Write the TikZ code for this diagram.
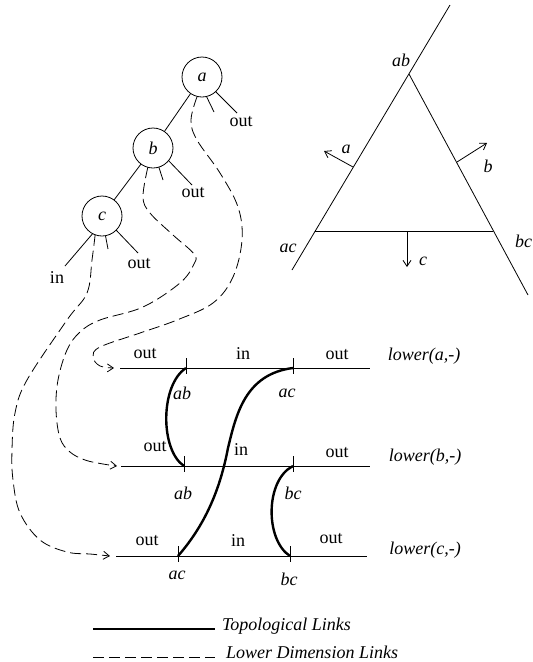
\documentclass[tikz,border=0pt]{standalone}
\usepackage{fontspec}
\setmainfont{Liberation Serif}
\usetikzlibrary{arrows.meta}
\begin{document}
\begin{tikzpicture}[x=1pt,y=-1pt,
  ln/.style={line width=0.8pt},
  topo/.style={line width=2.4pt},
  dashlink/.style={line width=0.8pt, dash pattern=on 11pt off 5pt},
  barb/.style={-{Straight Barb[length=6pt,width=8pt,line width=0.8pt]}},
  lbl/.style={inner sep=0pt, outer sep=0pt, font=\fontsize{18}{21}\selectfont},
  ilbl/.style={lbl, font=\fontsize{18}{21}\selectfont\itshape},
  vtx/.style={circle, draw, line width=0.8pt, minimum size=40pt, inner sep=0pt, outer sep=0pt, font=\fontsize{18}{21}\selectfont\itshape},
  tickmark/.style={line width=0.8pt}
]
\useasboundingbox (0,0) rectangle (533,662);

% ---------- tree ----------
\node[vtx] (na) at (202,77) {a};
\node[vtx] (nb) at (153,148) {b};
\node[vtx] (nc) at (102,216) {c};
\draw[ln] (na) -- (nb);
\draw[ln] (nb) -- (nc);

\coordinate (sa) at (214,112);
\coordinate (oaend) at (237,113);
\node[lbl] (oa) at (241,122) {out};
\draw[ln] (na.-77) -- (sa);
\draw[ln] (na.-47) -- (oaend);

\coordinate (sb) at (163,180);
\coordinate (obend) at (192,185);
\node[lbl] (ob) at (193,193) {out};
\draw[ln] (nb.-73) -- (sb);
\draw[ln] (nb.-39) -- (obend);

\coordinate (sc) at (108,249);
\coordinate (ocend) at (138,253);
\coordinate (icend) at (65,266);
\node[lbl] (oc) at (139,264) {out};
\node[lbl] (ic) at (57,278) {in};
\draw[ln] (nc.-80) -- (sc);
\draw[ln] (nc.-45) -- (ocend);
\draw[ln] (nc.-118) -- (icend);

% ---------- rows ----------
\coordinate (a0) at (120,368); \coordinate (a1) at (370,368);
\coordinate (aab) at (186,368); \coordinate (aac) at (293,368);
\coordinate (b0) at (121,466); \coordinate (b1) at (370,466);
\coordinate (bab) at (184,466); \coordinate (bbc) at (293,466);
\coordinate (c0) at (116,556); \coordinate (c1) at (367,556);
\coordinate (cac) at (178,556); \coordinate (cbc) at (290,556);

\draw[ln] (a0) -- (a1);
\draw[ln] (b0) -- (b1);
\draw[ln] (c0) -- (c1);
\foreach \p in {aab,aac,bab,bbc,cac,cbc}
  \draw[tickmark] ([yshift=10pt]\p) -- ([yshift=-6pt]\p);

\node[lbl] (ra1) at (145,354) {out};
\node[lbl] (ra2) at (243,354) {in};
\node[lbl] (ra3) at (337,355) {out};
\node[ilbl] (ra4) at (424,356) {lower(a,-)};
\node[ilbl] (ra5) at (182,393) {ab};
\node[ilbl] (ra6) at (287,393) {ac};

\node[lbl] (rb1) at (155,447) {out};
\node[lbl] (rb2) at (241,450) {in};
\node[lbl] (rb3) at (337,453) {out};
\node[ilbl] (rb4) at (425,457) {lower(b,-)};
\node[ilbl] (rb5) at (183,493) {ab};
\node[ilbl] (rb6) at (293,493) {bc};

\node[lbl] (rc1) at (147,541) {out};
\node[lbl] (rc2) at (238,541) {in};
\node[lbl] (rc3) at (331,539) {out};
\node[ilbl] (rc4) at (425,550) {lower(c,-)};
\node[ilbl] (rc5) at (177,575) {ac};
\node[ilbl] (rc6) at (289,579) {bc};

% topological links
\draw[topo] (aab) .. controls (160,385) and (160,450) .. (bab);
\draw[topo] (bbc) .. controls (265,480) and (265,540) .. (cbc);
\draw[topo] (aac) .. controls (245,374) and (236,415) .. (228,448)
                  .. controls (220,490) and (205,525) .. (cac);

% lower dimension links
\draw[dashlink,barb] plot[smooth, tension=0.6] coordinates {(na.-104) (191,120) (197,140) (220,173) (238,207) (242,240) (233,277) (213,303) (177,320) (140,333) (100,347) (93,357) (100,366) ([xshift=-6pt]a0)};
\draw[dashlink,barb] plot[smooth, tension=0.6] coordinates {(nb.-105) (143,197) (150,213) (173,235) (194,254) (194,264) (180,283) (143,307) (100,320) (80,332) (67,350) (58,380) (56,410) (60,438) (70,452) (85,460) (103,464) ([xshift=-4pt]b0)};
\draw[dashlink,barb] plot[smooth, tension=0.6] coordinates {(nc.-110) (92,260) (87,293) (67,320) (27,380) (15,413) (12,450) (13,480) (20,513) (40,540) (67,552) (90,554) ([xshift=-6pt]c0)};

% ---------- triangle ----------
\coordinate (tl1) at (292,270); \coordinate (tl2) at (450,5);
\coordinate (apex) at (409,74); \coordinate (tr) at (528,295);
\coordinate (h1) at (315,231); \coordinate (h2) at (493,231);
\draw[ln] (tl1) -- (tl2);
\draw[ln] (apex) -- (tr);
\draw[ln] (h1) -- (h2);

\coordinate (ma) at (353,167); \coordinate (ea) at (324,151);
\coordinate (mb) at (457,162); \coordinate (eb) at (487,143);
\coordinate (mc) at (407,231); \coordinate (ec) at (407,267);
\draw[ln,barb] (ma) -- (ea);
\draw[ln,barb] (mb) -- (eb);
\draw[ln,barb] (mc) -- (ec);

\node[ilbl] (tab) at (401,60) {ab};
\node[ilbl] (ta) at (346,149) {a};
\node[ilbl] (tb) at (488,166) {b};
\node[ilbl] (tc) at (423,261) {c};
\node[ilbl] (tac) at (288,248) {ac};
\node[ilbl, anchor=east] (tbc) at (532,241) {bc};

% ---------- legend ----------
\coordinate (l1a) at (93,629); \coordinate (l1b) at (215,629);
\coordinate (l2a) at (93,657); \coordinate (l2b) at (215,657);
\draw[topo] (l1a) -- (l1b);
\draw[dashlink] (l2a) -- (l2b);
\node[ilbl, anchor=west] (lt1) at (222,626) {Topological Links};
\node[ilbl, anchor=west] (lt2) at (226,652) {Lower Dimension Links};
\end{tikzpicture}
\end{document}
